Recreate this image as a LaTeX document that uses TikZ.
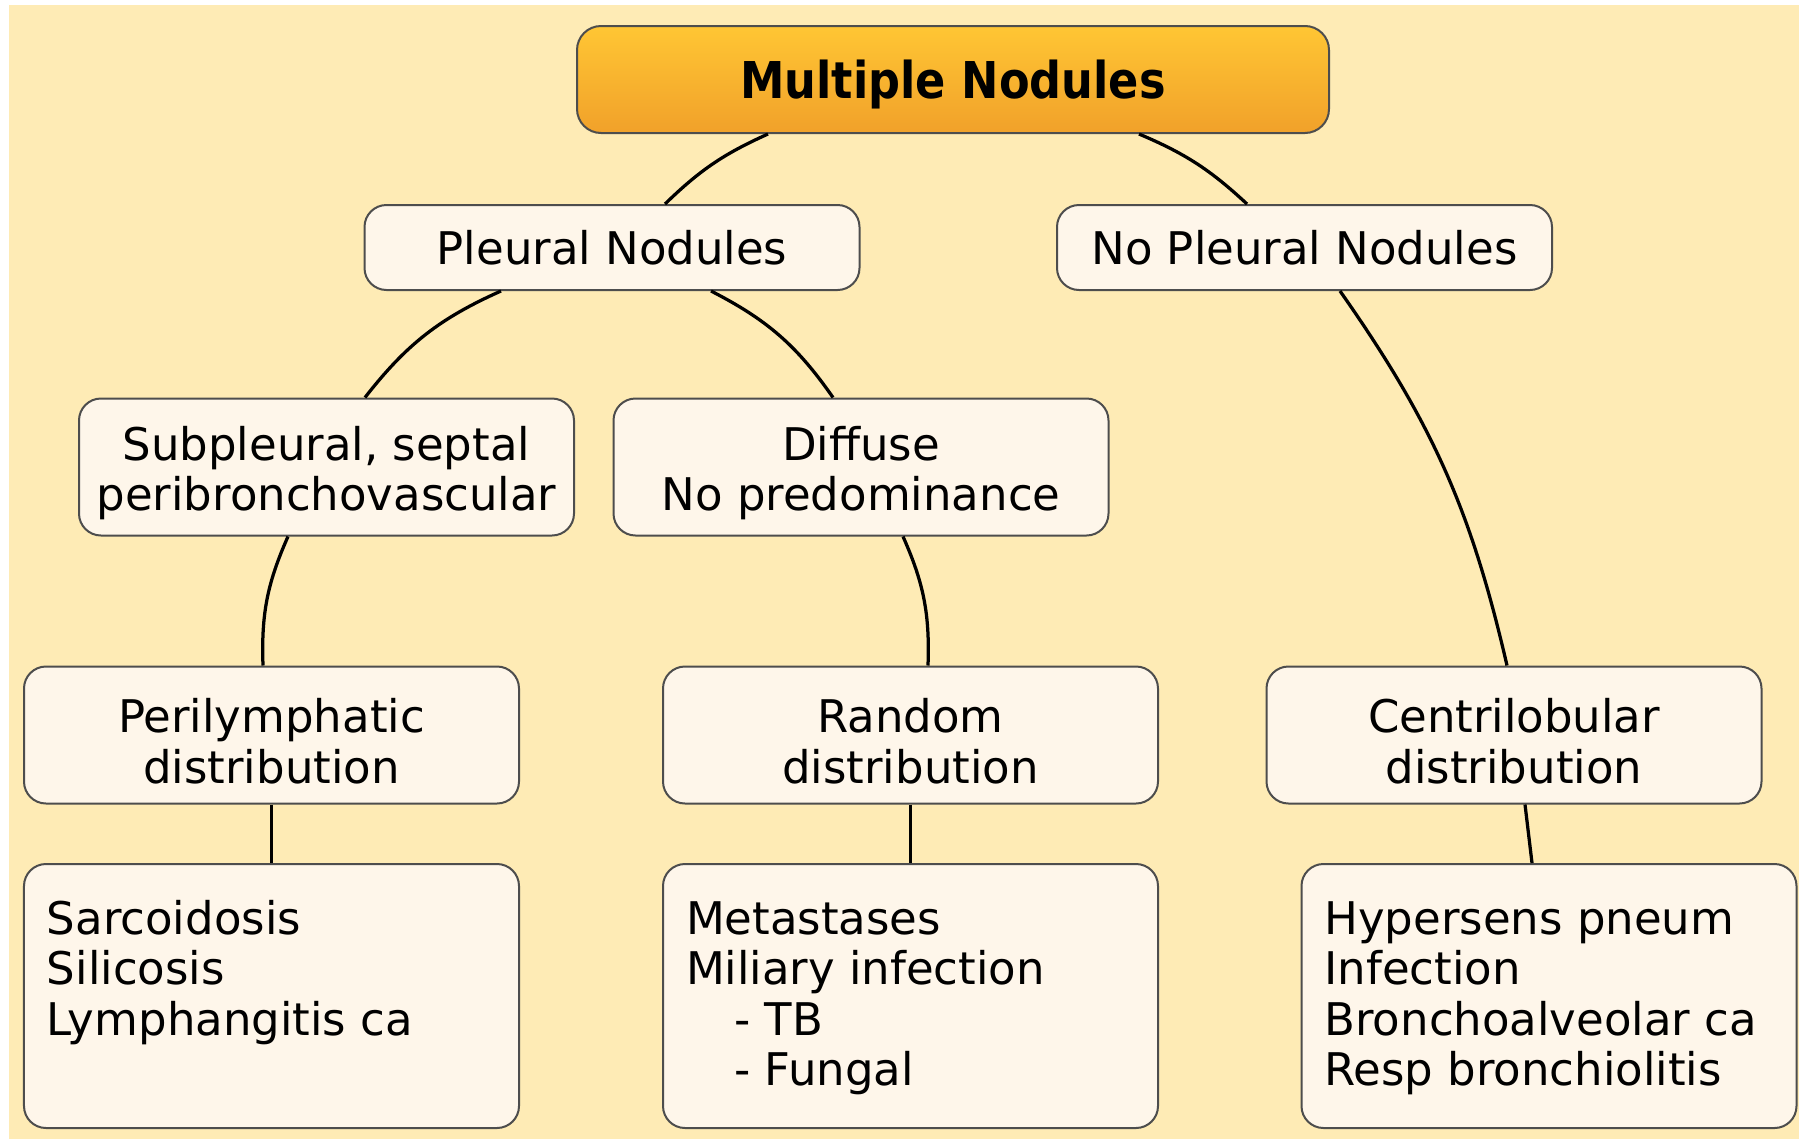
\documentclass[tikz,border=0pt]{standalone}
\usepackage{fontspec}
\setmainfont{DejaVu Sans}
\newfontfamily\titlefont{DejaVu Sans}[FakeStretch=0.88]
\definecolor{bgyel}{HTML}{FEEBB5}
\definecolor{boxfill}{HTML}{FEF6EA}
\definecolor{boxline}{HTML}{4D4D4D}
\definecolor{toptop}{HTML}{FFC634}
\definecolor{topbot}{HTML}{F1A12A}
\newcommand\PXU{0.4pt}
\newcommand\tstrut{\rule{0pt}{18.6pt}}
\newcommand\listtext[1]{\parbox[t][77.6pt][t]{179.6pt}{\raggedright\strut #1}}
\begin{document}
\begin{tikzpicture}[x=0.4pt,y=-0.4pt,
  box/.style={draw=boxline, line width=0.8pt, fill=boxfill, rounded corners=8.8pt,
    minimum width=495*\PXU, inner sep=0pt, align=center,
    font=\fontsize{18pt}{20.2pt}\selectfont},
  smallbox/.style={box, minimum height=85*\PXU},
  midbox/.style={box, minimum height=137*\PXU},
  listbox/.style={box, align=left, inner xsep=23*\PXU, inner ysep=35*\PXU},
  topbox/.style={draw=boxline, line width=0.8pt, top color=toptop, bottom color=topbot,
    rounded corners=9.6pt, minimum width=752*\PXU, minimum height=107*\PXU, inner sep=0pt,
    text depth=0pt, font=\titlefont\bfseries\fontsize{20.3pt}{24pt}\selectfont},
  conn/.style={draw=black, line width=1.3pt}]
\useasboundingbox (0,0) rectangle (1799,1140);
\fill[white] (0,0) rectangle (1799,1140);
\fill[bgyel] (9,5) rectangle (1799,1139);

\node[topbox] (top) at (953,79.5) {Multiple Nodules};

\node[smallbox] (pleural) at (612,247.5) {Pleural Nodules};
\node[smallbox] (nopleural) at (1304.5,247.5) {No Pleural Nodules};

\node[midbox] (subpleural) at (326.5,467) {\tstrut Subpleural, septal\\peribronchovascular};
\node[midbox] (diffuse) at (861,467) {\tstrut Diffuse\\No predominance};

\node[midbox] (peri) at (271.5,735) {\tstrut Perilymphatic\\distribution};
\node[midbox] (random) at (910.5,735) {\tstrut Random\\distribution};
\node[midbox] (centri) at (1514,735) {\tstrut Centrilobular\\distribution};

\node[listbox] (sarc) at (271.5,996) {\listtext{Sarcoidosis\\Silicosis\\Lymphangitis ca}};
\node[listbox] (meta) at (910.5,996) {\listtext{Metastases\\Miliary infection\\\hspace*{19.2pt}- TB\\\hspace*{19.2pt}- Fungal}};
\node[listbox] (hyper) at (1549,996) {\listtext{Hypersens pneum\\Infection\\Bronchoalveolar ca\\Resp bronchiolitis}};

\draw[conn] ([xshift=-185*\PXU]top.south) to[bend right=10] ([xshift=53*\PXU]pleural.north);
\draw[conn] ([xshift=186*\PXU]top.south) to[bend left=10] ([xshift=-57.5*\PXU]nopleural.north);
\draw[conn] ([xshift=-111*\PXU]pleural.south) to[bend right=14] ([xshift=38.5*\PXU]subpleural.north);
\draw[conn] ([xshift=99*\PXU]pleural.south) to[bend left=14] ([xshift=-28*\PXU]diffuse.north);
\draw[conn] ([xshift=35.5*\PXU]nopleural.south) to[bend left=11] ([xshift=-7*\PXU]centri.north);
\draw[conn] ([xshift=-38.5*\PXU]subpleural.south) to[bend right=13] ([xshift=-8.5*\PXU]peri.north);
\draw[conn] ([xshift=42*\PXU]diffuse.south) to[bend left=13] ([xshift=17.5*\PXU]random.north);
\draw[conn] (peri.south) -- (sarc.north);
\draw[conn] (random.south) -- (meta.north);
\draw[conn] ([xshift=11*\PXU]centri.south) -- ([xshift=-17*\PXU]hyper.north);
\end{tikzpicture}
\end{document}
